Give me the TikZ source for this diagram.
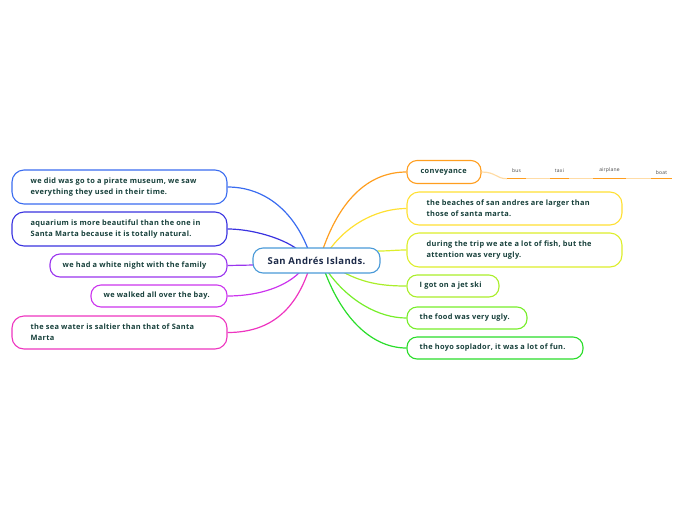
\documentclass[tikz,border=0pt]{standalone}
\usepackage{fontspec}
\setmainfont[LetterSpace=4]{Open Sans}
\definecolor{txt}{HTML}{17403B}
\definecolor{ctxt}{HTML}{1C2A48}
\definecolor{cblue}{HTML}{4A9AD8}
\definecolor{cpirate}{HTML}{3A6CF0}
\definecolor{caqua}{HTML}{3A33E0}
\definecolor{cwhite}{HTML}{9A35EE}
\definecolor{cwalk}{HTML}{CC35EE}
\definecolor{csea}{HTML}{EE35C0}
\definecolor{cconv}{HTML}{FF9E1F}
\definecolor{cbeach}{HTML}{FFE033}
\definecolor{cduring}{HTML}{DDEE2A}
\definecolor{cjet}{HTML}{AAEE2A}
\definecolor{cfood}{HTML}{77EE2A}
\definecolor{choyo}{HTML}{2ADD2A}
\definecolor{cfaint}{HTML}{FFDCA6}
\definecolor{sublab}{HTML}{444444}
\tikzset{
  box/.style={draw, line width=1.1pt, rounded corners=10pt, fill=white, inner sep=0pt},
  mbox/.style={box, rounded corners=12pt, minimum width=215pt},
  lbl/.style={anchor=west, text=txt, font=\fontsize{7.4}{10.7}\selectfont\bfseries, align=left, inner sep=0pt},
  conn/.style={line width=1.2pt},
  sub/.style={font=\fontsize{5}{6}\selectfont, text=sublab, inner sep=1pt, anchor=south},
  uline/.style={draw=cconv, line width=1.2pt},
}
\begin{document}
\begin{tikzpicture}[x=1pt,y=-1pt]
\useasboundingbox (0,0) rectangle (696,520);
% connector start points under the central topic
\coordinate (sPir) at (308,249);
\coordinate (sAqu) at (297,249);
\coordinate (sWhi) at (254,265);
\coordinate (sWal) at (300,272);
\coordinate (sSea) at (308,272);
\coordinate (sCon) at (323,249);
\coordinate (sBea) at (330,249);
\coordinate (sDur) at (378,251);
\coordinate (sJet) at (343,272);
\coordinate (sFoo) at (328,272);
\coordinate (sHoy) at (325,272);
% topic boxes
\node[mbox, draw=cpirate, minimum height=34pt] (pir) at (119.5,187) {};
\node[mbox, draw=caqua, minimum height=34pt] (aqu) at (119.5,229) {};
\node[box, draw=cwhite, minimum width=177pt, minimum height=23pt] (whi) at (138.5,265.5) {};
\node[box, draw=cwalk, minimum width=136pt, minimum height=22pt] (wal) at (159,296) {};
\node[mbox, draw=csea, minimum height=33pt] (sea) at (119.5,332.5) {};
\node[box, draw=cconv, minimum width=74pt, minimum height=23pt] (con) at (444,172) {};
\node[mbox, draw=cbeach, minimum height=33pt] (bea) at (514.5,208.5) {};
\node[mbox, draw=cduring, minimum height=34pt] (dur) at (514.5,250) {};
\node[box, draw=cjet, minimum width=92pt, minimum height=22pt] (jet) at (453,286) {};
\node[box, draw=cfood, minimum width=120pt, minimum height=22pt] (foo) at (467,318) {};
\node[box, draw=choyo, minimum width=176pt, minimum height=22pt] (hoy) at (495,348) {};
% topic texts
\node[lbl] (tPir) at ([xshift=19pt]pir.west) {we did was go to a pirate museum, we saw\\everything they used in their time.};
\node[lbl] (tAqu) at ([xshift=19pt]aqu.west) {aquarium is more beautiful than the one in\\Santa Marta because it is totally natural.};
\node[lbl] (tWhi) at ([xshift=13pt]whi.west) {we had a white night with the family};
\node[lbl] (tWal) at ([xshift=13pt]wal.west) {we walked all over the bay.};
\node[lbl] (tSea) at ([xshift=19pt]sea.west) {the sea water is saltier than that of Santa\\Marta};
\node[lbl] (tCon) at ([xshift=14pt]con.west) {conveyance};
\node[lbl] (tBea) at ([xshift=20pt]bea.west) {the beaches of san andres are larger than\\those of santa marta.};
\node[lbl] (tDur) at ([xshift=20pt]dur.west) {during the trip we ate a lot of fish, but the\\attention was very ugly.};
\node[lbl] (tJet) at ([xshift=13pt]jet.west) {I got on a jet ski};
\node[lbl] (tFoo) at ([xshift=13pt]foo.west) {the food was very ugly.};
\node[lbl] (tHoy) at ([xshift=13pt]hoy.west) {the hoyo soplador, it was a lot of fun.};
% connectors
\draw[conn, cpirate] (sPir) .. controls (292,208) and (262,187) .. (pir.east);
\draw[conn, caqua] (sAqu) .. controls (282,238) and (252,229) .. (aqu.east);
\draw[conn, cwhite] (sWhi) -- (whi.east);
\draw[conn, cwalk] (sWal) .. controls (282,290) and (252,296) .. (wal.east);
\draw[conn, csea] (sSea) .. controls (292,318) and (262,332.5) .. (sea.east);
\draw[conn, cconv] (sCon) .. controls (342,195) and (372,172) .. (con.west);
\draw[conn, cbeach] (sBea) .. controls (350,222) and (380,208.5) .. (bea.west);
\draw[conn, cduring] (sDur) .. controls (390,251) and (395,250) .. (dur.west);
\draw[conn, cjet] (sJet) .. controls (365,284) and (385,286) .. (jet.west);
\draw[conn, cfood] (sFoo) .. controls (348,300) and (378,318) .. (foo.west);
\draw[conn, choyo] (sHoy) .. controls (343,320) and (373,348) .. (hoy.west);
% central topic
\node[draw=cblue, line width=1.1pt, rounded corners=10pt, fill=white, text=ctxt,
  font=\fontsize{9.5}{10}\selectfont\bfseries, minimum width=127pt, minimum height=25pt] (ctr) at (316.5,260.5) {San Andrés Islands.};
% conveyance sub-branches
\coordinate (bA) at (507,178.7);
\coordinate (bEnd) at (672,178.7);
\draw[cfaint, line width=1.2pt] (con.east) .. controls (496,172) and (496,178.7) .. (bA);
\draw[cfaint, line width=1.2pt] (bA) -- (bEnd);
\coordinate (bus1) at (507,178.7); \coordinate (bus2) at (526,178.7);
\coordinate (tax1) at (550,178.7); \coordinate (tax2) at (569,178.7);
\coordinate (air1) at (593,178.7); \coordinate (air2) at (626,178.7);
\coordinate (boa1) at (651,178.7); \coordinate (boa2) at (672,178.7);
\draw[uline] (bus1) -- (bus2);
\draw[uline] (tax1) -- (tax2);
\draw[uline] (air1) -- (air2);
\draw[uline] (boa1) -- (boa2);
\node[sub] (bus) at (516.5,174) {bus};
\node[sub] (taxi) at (559.5,174) {taxi};
\node[sub] (air) at (609.5,173.5) {airplane};
\node[sub] (boat) at (661.5,175.5) {boat};
\end{tikzpicture}
\end{document}
